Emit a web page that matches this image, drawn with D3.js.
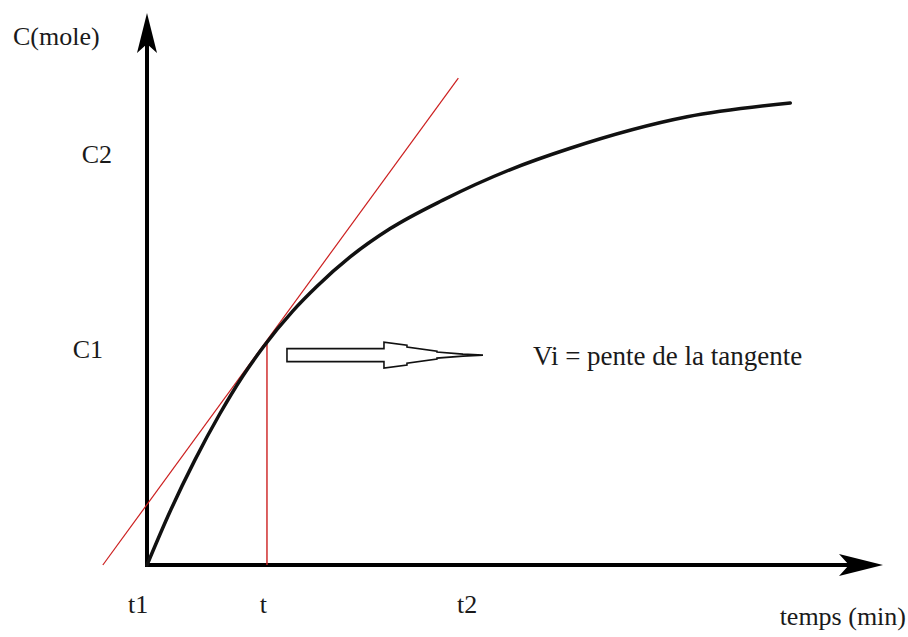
<!DOCTYPE html>
<html>
<head>
<meta charset="utf-8">
<script src="https://cdn.jsdelivr.net/npm/d3@7"></script>
<style>
  body { margin: 0; background: #fff; }
  text { font-family: "Liberation Serif", "Times New Roman", serif; fill: #1a1a1a; }
</style>
</head>
<body>
<div id="chart"></div>
<script>
// curve (arbitrary units)
var curveT = [0, 3.1, 6.5, 9.9, 13.0, 15.8, 19.8, 23.1, 27.6, 33.0, 40.2, 49.3, 57.5, 73.4, 87.4]
var curveC = [0, 9.6, 19.0, 27.4, 34.2, 39.5, 46.0, 50.5, 55.8, 60.9, 66.1, 71.6, 75.5, 81.2, 83.7]

// tangent at t
var tangentT = [-6.0, 42.3]
var tangentC = [0, 88.2]

var tPoint = 16.3, cPoint = 40.2

var xTickLabels = ["t1", "t", "t2"]
var xTickValues = [-1.2, 15.8, 43.5]
var yTickLabels = ["C2", "C1"]
var yTickValues = [74.5, 39.2]
var yTickRight = [112, 103]

var width = 908, height = 637

var svg = d3.select("#chart").append("svg")
  .attr("width", width)
  .attr("height", height)

var x = d3.scaleLinear().domain([0, 100]).range([147, 883])
var y = d3.scaleLinear().domain([0, 100]).range([565, 13])

// axes
svg.append("line")
  .attr("x1", x(0)).attr("y1", y(0))
  .attr("x2", x(100) - 20).attr("y2", y(0))
  .attr("stroke", "#000").attr("stroke-width", 4)
svg.append("line")
  .attr("x1", x(0)).attr("y1", y(0) + 2)
  .attr("x2", x(0)).attr("y2", y(100) + 20)
  .attr("stroke", "#000").attr("stroke-width", 4)

// arrow heads
var xe = x(100), ye = y(0)
svg.append("path")
  .attr("d", "M" + xe + "," + ye + "L" + (xe - 44) + "," + (ye - 11) + "L" + (xe - 34) + "," + ye + "L" + (xe - 44) + "," + (ye + 11) + "Z")
  .attr("fill", "#000")
var xa = x(0), ya = y(100)
svg.append("path")
  .attr("d", "M" + xa + "," + ya + "L" + (xa + 10) + "," + (ya + 40) + "L" + xa + "," + (ya + 31) + "L" + (xa - 10) + "," + (ya + 40) + "Z")
  .attr("fill", "#000")

// tangent
svg.append("line")
  .attr("x1", x(tangentT[0])).attr("y1", y(tangentC[0]))
  .attr("x2", x(tangentT[1])).attr("y2", y(tangentC[1]))
  .attr("stroke", "#cc1f1f").attr("stroke-width", 1.2)

// vertical at t
svg.append("line")
  .attr("x1", x(tPoint)).attr("y1", y(cPoint))
  .attr("x2", x(tPoint)).attr("y2", y(0))
  .attr("stroke", "#cc1f1f").attr("stroke-width", 1.4)

// curve
var pts = curveT.map(function(d, i) { return [d, curveC[i]] })
svg.append("path")
  .datum(pts)
  .attr("fill", "none")
  .attr("stroke", "#111")
  .attr("stroke-width", 3.5)
  .attr("stroke-linecap", "round")
  .attr("d", d3.line()
    .curve(d3.curveMonotoneX)
    .x(function(d) { return x(d[0]) })
    .y(function(d) { return y(d[1]) }))

// hollow arrow
var ax = x(tPoint) + 20, ay = y(cPoint) + 12
var arrow = [
  [0, -6.5], [97, -6.5], [97, -13], [120, -10], [120, -8], [150, -4], [150, -3], [176, -1], [196, 0],
  [176, 1], [150, 3], [150, 4], [120, 8], [120, 10], [97, 13], [97, 6.5], [0, 6.5]
]
svg.append("path")
  .attr("d", "M" + arrow.map(function(p) { return (ax + p[0]) + "," + (ay + p[1]) }).join("L") + "Z")
  .attr("fill", "#fff")
  .attr("stroke", "#111")
  .attr("stroke-width", 1.6)

// tick labels
svg.selectAll(".xlab").data(xTickLabels).enter().append("text")
  .attr("x", function(d, i) { return x(xTickValues[i]) })
  .attr("y", 613)
  .attr("text-anchor", "middle")
  .attr("font-size", 26)
  .text(function(d) { return d })

svg.selectAll(".ylab").data(yTickLabels).enter().append("text")
  .attr("x", function(d, i) { return yTickRight[i] })
  .attr("y", function(d, i) { return y(yTickValues[i]) + 9 })
  .attr("text-anchor", "end")
  .attr("font-size", 26)
  .text(function(d) { return d })

svg.append("text")
  .attr("x", 13).attr("y", 45)
  .attr("font-size", 26)
  .text("C(mole)")

svg.append("text")
  .attr("x", 906).attr("y", 625)
  .attr("text-anchor", "end")
  .attr("font-size", 26)
  .text("temps (min)")

svg.append("text")
  .attr("x", 533).attr("y", 365)
  .attr("font-size", 27)
  .text("Vi = pente de la tangente")
</script>
</body>
</html>
